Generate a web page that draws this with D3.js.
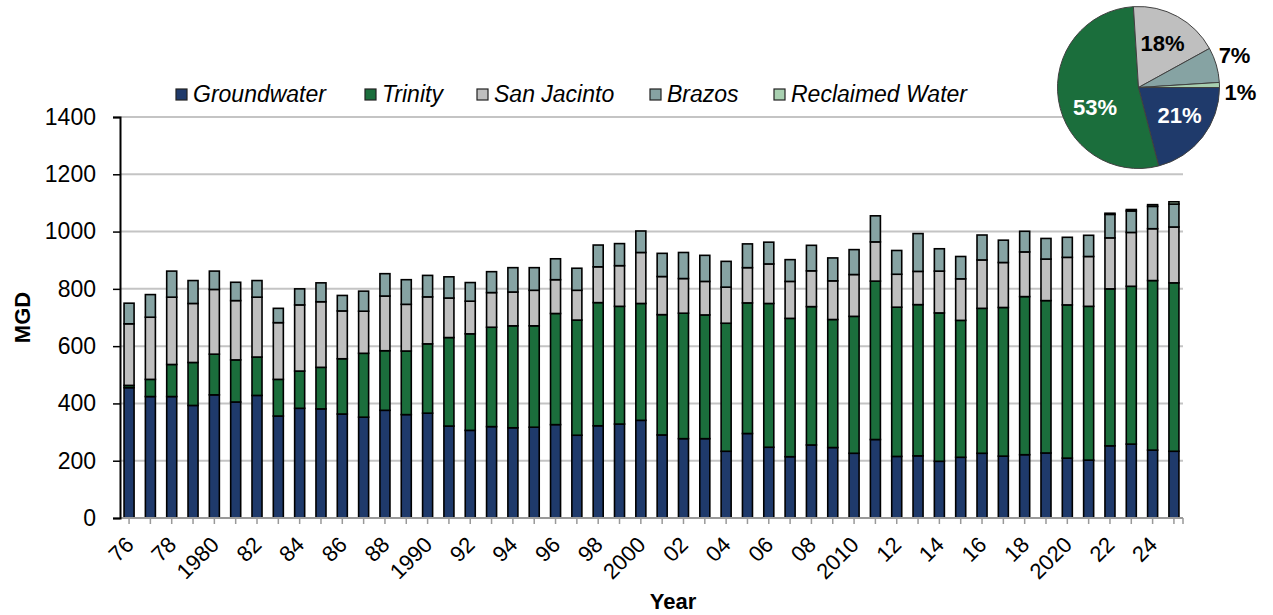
<!DOCTYPE html>
<html>
<head>
<meta charset="utf-8">
<script src="https://cdn.jsdelivr.net/npm/d3@7"></script>
<style>
  body { margin: 0; background: #fff; }
  svg { display: block; font-family: "Liberation Sans", Arial, sans-serif; }
</style>
</head>
<body>
<div id="chart"></div>
<script>
// categories
const years = d3.range(1976, 2026);
const seriesNames = ['Groundwater', 'Trinity', 'San Jacinto', 'Brazos', 'Reclaimed Water'];
const seriesColors = ['#1f3a6b', '#1b6e3c', '#bfbfbf', '#86a3a3', '#a8d0b0'];

// series values (MGD), one per year 1976..2025
const groundwater = [455, 424, 424, 393, 430, 405, 428, 356, 383, 381,
  363, 352, 376, 361, 366, 321, 306, 319, 315, 317,
  326, 289, 322, 328, 341, 290, 277, 277, 233, 295,
  247, 214, 255, 246, 226, 274, 215, 217, 198, 212,
  226, 216, 221, 227, 209, 202, 252, 258, 237, 233];
const trinity = [8, 60, 112, 150, 142, 147, 134, 128, 130, 145,
  193, 223, 208, 222, 242, 309, 337, 347, 356, 354,
  388, 402, 430, 411, 408, 420, 438, 432, 447, 456,
  502, 483, 483, 447, 478, 553, 521, 528, 518, 478,
  506, 519, 552, 532, 535, 537, 548, 551, 592, 588];
const sanJacinto = [215, 217, 235, 206, 226, 207, 209, 198, 231, 229,
  167, 147, 191, 163, 164, 138, 114, 121, 118, 124,
  118, 104, 125, 142, 178, 133, 121, 117, 126, 123,
  138, 129, 125, 135, 146, 137, 115, 116, 146, 145,
  169, 157, 156, 145, 166, 174, 178, 188, 181, 195];
const brazos = [72, 79, 91, 80, 64, 64, 58, 50, 56, 66,
  54, 70, 78, 86, 75, 74, 65, 73, 85, 79,
  73, 77, 76, 77, 75, 81, 91, 91, 90, 83,
  76, 76, 89, 80, 87, 91, 83, 132, 78, 78,
  87, 78, 72, 72, 70, 74, 82, 75, 78, 80];
const reclaimed = [0, 0, 0, 0, 0, 0, 0, 0, 0, 0,
  0, 0, 0, 0, 0, 0, 0, 0, 0, 0,
  0, 0, 0, 0, 0, 0, 0, 0, 0, 0,
  0, 0, 0, 0, 0, 0, 0, 0, 0, 0,
  0, 0, 0, 0, 0, 0, 4, 5, 6, 8];

// pie shares (%)
const pieShares = [21, 53, 18, 7, 1];

// y ticks
const yTicks = [0, 200, 400, 600, 800, 1000, 1200, 1400];

const width = 1273, height = 615;
const margin = { top: 117, right: 90, bottom: 97, left: 120 };

const svg = d3.select('#chart').append('svg')
  .attr('width', width)
  .attr('height', height);

const x = d3.scaleBand()
  .domain(years)
  .range([margin.left, width - margin.right])
  .paddingInner(0.53)
  .paddingOuter(0.19);

const y = d3.scaleLinear()
  .domain([0, 1400])
  .range([height - margin.bottom, margin.top]);

// gridlines
svg.append('g')
  .selectAll('line')
  .data(yTicks.filter(d => d > 0))
  .join('line')
  .attr('x1', margin.left)
  .attr('x2', width - margin.right)
  .attr('y1', d => y(d))
  .attr('y2', d => y(d))
  .attr('stroke', '#c4c4c4')
  .attr('stroke-width', 2);

// stacked data
const rows = years.map((yr, i) => ({
  year: yr,
  'Groundwater': groundwater[i],
  'Trinity': trinity[i],
  'San Jacinto': sanJacinto[i],
  'Brazos': brazos[i],
  'Reclaimed Water': reclaimed[i]
}));

const stacked = d3.stack().keys(seriesNames)(rows);

svg.append('g')
  .selectAll('g')
  .data(stacked)
  .join('g')
  .attr('fill', (d, i) => seriesColors[i])
  .selectAll('rect')
  .data(d => d.filter(p => p[1] - p[0] > 0))
  .join('rect')
  .attr('x', d => x(d.data.year))
  .attr('width', x.bandwidth())
  .attr('y', d => y(d[1]))
  .attr('height', d => y(d[0]) - y(d[1]))
  .attr('stroke', '#000')
  .attr('stroke-width', 1.6);

// x axis
const xAxis = svg.append('g')
  .attr('transform', `translate(0,${y(0)})`);

xAxis.append('line')
  .attr('x1', margin.left)
  .attr('x2', width - margin.right)
  .attr('stroke', '#999')
  .attr('stroke-width', 2);

xAxis.selectAll('.tick')
  .data(years)
  .join('line')
  .attr('x1', d => x(d) + x.bandwidth() / 2)
  .attr('x2', d => x(d) + x.bandwidth() / 2)
  .attr('y1', 0)
  .attr('y2', 6)
  .attr('stroke', '#999')
  .attr('stroke-width', 1.5);

xAxis.append('line')
  .attr('x1', width - margin.right)
  .attr('x2', width - margin.right)
  .attr('y1', 0)
  .attr('y2', 6)
  .attr('stroke', '#999')
  .attr('stroke-width', 1.5);

const fmtYear = d => (d % 10 === 0 ? String(d) : String(d).slice(2));

xAxis.selectAll('text')
  .data(years.filter(d => d % 2 === 0))
  .join('text')
  .attr('transform', d => `translate(${x(d) + x.bandwidth() / 2 + 6},28) rotate(-45)`)
  .attr('text-anchor', 'end')
  .attr('font-size', '22px')
  .attr('fill', '#000')
  .text(fmtYear);

// y axis
const yAxis = svg.append('g')
  .attr('transform', `translate(${margin.left},0)`)
  .call(d3.axisLeft(y).tickValues(yTicks).tickFormat(d3.format('d')).tickSize(7).tickPadding(17));

yAxis.select('.domain').attr('stroke', '#000').attr('stroke-width', 2);
yAxis.selectAll('.tick line').attr('stroke', '#000').attr('stroke-width', 1.5);
yAxis.selectAll('.tick text')
  .attr('font-size', '23px')
  .attr('font-family', '"Liberation Sans", Arial, sans-serif')
  .attr('fill', '#000');

// axis titles
svg.append('text')
  .attr('transform', `translate(30,${(y(0) + y(1400)) / 2}) rotate(-90)`)
  .attr('text-anchor', 'middle')
  .attr('font-size', '22px')
  .attr('font-weight', 'bold')
  .text('MGD');

svg.append('text')
  .attr('x', 673)
  .attr('y', 609)
  .attr('text-anchor', 'middle')
  .attr('font-size', '22px')
  .attr('font-weight', 'bold')
  .text('Year');

// legend
const legendX = [176, 365, 477, 650, 774];
const legend = svg.append('g');
seriesNames.forEach((name, i) => {
  const g = legend.append('g')
    .attr('transform', `translate(${legendX[i]},0)`);
  g.append('rect')
    .attr('x', 0)
    .attr('y', 89)
    .attr('width', 11)
    .attr('height', 11)
    .attr('fill', seriesColors[i])
    .attr('stroke', '#222')
    .attr('stroke-width', 1.2);
  g.append('text')
    .attr('x', 17)
    .attr('y', 102)
    .attr('font-size', '23px')
    .attr('font-style', 'italic')
    .attr('fill', '#000')
    .text(name);
});

// pie
const pieCx = 1138.5, pieCy = 87.5, pieR = 81;
const pie = d3.pie()
  .sort(null)
  .startAngle(Math.PI / 2)
  .endAngle(Math.PI / 2 + 2 * Math.PI);
const arcs = pie(pieShares);
const arc = d3.arc().innerRadius(0).outerRadius(pieR);

const pieG = svg.append('g')
  .attr('transform', `translate(${pieCx},${pieCy})`);

pieG.selectAll('path')
  .data(arcs)
  .join('path')
  .attr('d', arc)
  .attr('fill', (d, i) => seriesColors[i])
  .attr('stroke', '#404040')
  .attr('stroke-width', 1);

// label radius and nudges per slice
const labelR = [52, 44, 50, 100, 102];
const labelDy = [-4, 13, 0, -4, 8];
const labelFill = ['#fff', '#fff', '#000', '#000', '#000'];

pieG.selectAll('text')
  .data(arcs)
  .join('text')
  .attr('transform', (d, i) => {
    const c = d3.arc().innerRadius(labelR[i]).outerRadius(labelR[i]).centroid(d);
    return `translate(${c[0]},${c[1] + labelDy[i]})`;
  })
  .attr('text-anchor', 'middle')
  .attr('dominant-baseline', 'central')
  .attr('font-size', '22px')
  .attr('font-weight', 'bold')
  .attr('fill', (d, i) => labelFill[i])
  .text(d => d.data + '%');
</script>
</body>
</html>
